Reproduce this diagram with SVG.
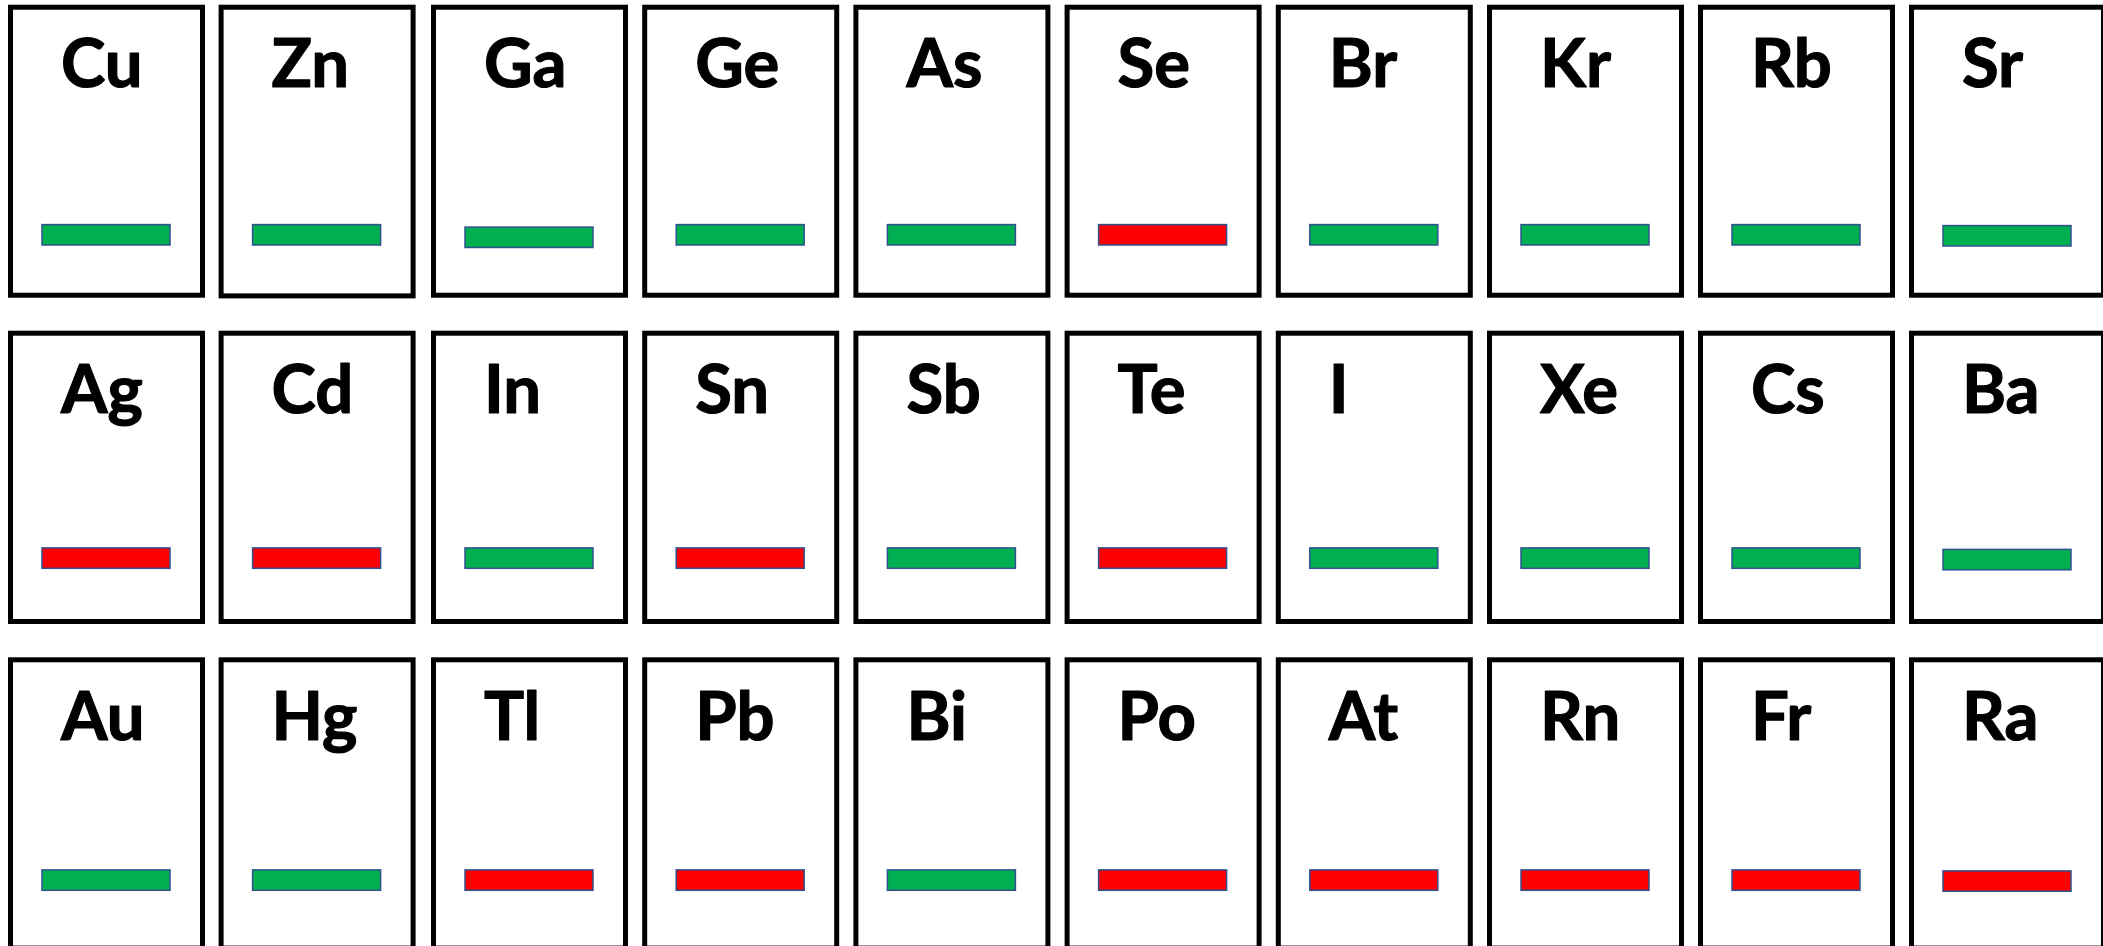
<svg xmlns="http://www.w3.org/2000/svg" width="2103" height="946" viewBox="0 0 2103 946">
  <style>
    .cell { fill: #ffffff; stroke: #000000; stroke-width: 5; }
    .sym { font-family: Lato, "Open Sans", "Liberation Sans", sans-serif; font-weight: 700; font-size: 67px; fill: #000000; stroke: #000000; stroke-width: 1.2; stroke-linejoin: round; }
    .bar { stroke: #2F528F; stroke-width: 1.5; }
    .ok { fill: #00B050; }
    .bad { fill: #FF0000; }
  </style>
  <rect width="2103" height="946" fill="#ffffff"/>

  <!-- Row 1 -->
  <g id="cell-Cu" transform="translate(8,4.7)"><rect class="cell" x="2.5" y="2.5" width="192" height="288"/><text class="sym" x="53" y="82.6">Cu</text><rect class="bar ok" x="34" y="219.9" width="128" height="20.4"/></g>
  <g id="cell-Zn" transform="translate(218.6,4.7)"><rect class="cell" x="2.5" y="2.5" width="192" height="288.7"/><text class="sym" x="53" y="82.6">Zn</text><rect class="bar ok" x="34" y="219.9" width="128" height="20.4"/></g>
  <g id="cell-Ga" transform="translate(431,4.7)"><rect class="cell" x="2.5" y="2.5" width="192" height="288"/><text class="sym" x="53" y="82.6">Ga</text><rect class="bar ok" x="34" y="222.4" width="128" height="20.4"/></g>
  <g id="cell-Ge" transform="translate(642.2,4.7)"><rect class="cell" x="2.5" y="2.5" width="192" height="288"/><text class="sym" x="53" y="82.6">Ge</text><rect class="bar ok" x="34" y="219.9" width="128" height="20.4"/></g>
  <g id="cell-As" transform="translate(853.4,4.7)"><rect class="cell" x="2.5" y="2.5" width="192" height="288"/><text class="sym" x="53" y="82.6">As</text><rect class="bar ok" x="34" y="219.9" width="128" height="20.4"/></g>
  <g id="cell-Se" transform="translate(1064.6,4.7)"><rect class="cell" x="2.5" y="2.5" width="192" height="288"/><text class="sym" x="53" y="82.6">Se</text><rect class="bar bad" x="34" y="219.9" width="128" height="20.4"/></g>
  <g id="cell-Br" transform="translate(1275.8,4.7)"><rect class="cell" x="2.5" y="2.5" width="192" height="288"/><text class="sym" x="53" y="82.6">Br</text><rect class="bar ok" x="34" y="219.9" width="128" height="20.4"/></g>
  <g id="cell-Kr" transform="translate(1487,4.7)"><rect class="cell" x="2.5" y="2.5" width="192" height="288"/><text class="sym" x="53" y="82.6">Kr</text><rect class="bar ok" x="34" y="219.9" width="128" height="20.4"/></g>
  <g id="cell-Rb" transform="translate(1698,4.7)"><rect class="cell" x="2.5" y="2.5" width="192" height="288"/><text class="sym" x="53" y="82.6">Rb</text><rect class="bar ok" x="34" y="219.9" width="128" height="20.4"/></g>
  <g id="cell-Sr" transform="translate(1909,4.7)"><rect class="cell" x="2.5" y="2.5" width="192" height="288"/><text class="sym" x="53" y="82.6">Sr</text><rect class="bar ok" x="34" y="220.9" width="128" height="20.4"/></g>

  <!-- Row 2 -->
  <g id="cell-Ag" transform="translate(8,330.7)"><rect class="cell" x="2.5" y="2.5" width="192" height="288.3"/><text class="sym" x="53" y="82.6">Ag</text><rect class="bar bad" x="34" y="217.2" width="128" height="20.4"/></g>
  <g id="cell-Cd" transform="translate(218.6,330.7)"><rect class="cell" x="2.5" y="2.5" width="192" height="288.3"/><text class="sym" x="53" y="82.6">Cd</text><rect class="bar bad" x="34" y="217.2" width="128" height="20.4"/></g>
  <g id="cell-In" transform="translate(431,330.7)"><rect class="cell" x="2.5" y="2.5" width="192" height="288.3"/><text class="sym" x="53" y="82.6">In</text><rect class="bar ok" x="34" y="217.2" width="128" height="20.4"/></g>
  <g id="cell-Sn" transform="translate(642.2,330.7)"><rect class="cell" x="2.5" y="2.5" width="192" height="288.3"/><text class="sym" x="53" y="82.6">Sn</text><rect class="bar bad" x="34" y="217.2" width="128" height="20.4"/></g>
  <g id="cell-Sb" transform="translate(853.4,330.7)"><rect class="cell" x="2.5" y="2.5" width="192" height="288.3"/><text class="sym" x="53" y="82.6">Sb</text><rect class="bar ok" x="34" y="217.2" width="128" height="20.4"/></g>
  <g id="cell-Te" transform="translate(1064.6,330.7)"><rect class="cell" x="2.5" y="2.5" width="192" height="288.3"/><text class="sym" x="53" y="82.6">Te</text><rect class="bar bad" x="34" y="217.2" width="128" height="20.4"/></g>
  <g id="cell-I" transform="translate(1275.8,330.7)"><rect class="cell" x="2.5" y="2.5" width="192" height="288.3"/><text class="sym" x="53" y="82.6">I</text><rect class="bar ok" x="34" y="217.2" width="128" height="20.4"/></g>
  <g id="cell-Xe" transform="translate(1487,330.7)"><rect class="cell" x="2.5" y="2.5" width="192" height="288.3"/><text class="sym" x="53" y="82.6">Xe</text><rect class="bar ok" x="34" y="217.2" width="128" height="20.4"/></g>
  <g id="cell-Cs" transform="translate(1698,330.7)"><rect class="cell" x="2.5" y="2.5" width="192" height="288.3"/><text class="sym" x="53" y="82.6">Cs</text><rect class="bar ok" x="34" y="217.2" width="128" height="20.4"/></g>
  <g id="cell-Ba" transform="translate(1909,330.7)"><rect class="cell" x="2.5" y="2.5" width="192" height="288.3"/><text class="sym" x="53" y="82.6">Ba</text><rect class="bar ok" x="34" y="218.7" width="128" height="20.4"/></g>

  <!-- Row 3 -->
  <g id="cell-Au" transform="translate(8,657.3)"><rect class="cell" x="2.5" y="2.5" width="192" height="288.3"/><text class="sym" x="53" y="82.6">Au</text><rect class="bar ok" x="34" y="212.6" width="128" height="20.4"/></g>
  <g id="cell-Hg" transform="translate(218.6,657.3)"><rect class="cell" x="2.5" y="2.5" width="192" height="288.3"/><text class="sym" x="53" y="82.6">Hg</text><rect class="bar ok" x="34" y="212.6" width="128" height="20.4"/></g>
  <g id="cell-Tl" transform="translate(431,657.3)"><rect class="cell" x="2.5" y="2.5" width="192" height="288.3"/><text class="sym" x="53" y="82.6">Tl</text><rect class="bar bad" x="34" y="212.6" width="128" height="20.4"/></g>
  <g id="cell-Pb" transform="translate(642.2,657.3)"><rect class="cell" x="2.5" y="2.5" width="192" height="288.3"/><text class="sym" x="53" y="82.6">Pb</text><rect class="bar bad" x="34" y="212.6" width="128" height="20.4"/></g>
  <g id="cell-Bi" transform="translate(853.4,657.3)"><rect class="cell" x="2.5" y="2.5" width="192" height="288.3"/><text class="sym" x="53" y="82.6">Bi</text><rect class="bar ok" x="34" y="212.6" width="128" height="20.4"/></g>
  <g id="cell-Po" transform="translate(1064.6,657.3)"><rect class="cell" x="2.5" y="2.5" width="192" height="288.3"/><text class="sym" x="53" y="82.6">Po</text><rect class="bar bad" x="34" y="212.6" width="128" height="20.4"/></g>
  <g id="cell-At" transform="translate(1275.8,657.3)"><rect class="cell" x="2.5" y="2.5" width="192" height="288.3"/><text class="sym" x="53" y="82.6">At</text><rect class="bar bad" x="34" y="212.6" width="128" height="20.4"/></g>
  <g id="cell-Rn" transform="translate(1487,657.3)"><rect class="cell" x="2.5" y="2.5" width="192" height="288.3"/><text class="sym" x="53" y="82.6">Rn</text><rect class="bar bad" x="34" y="212.6" width="128" height="20.4"/></g>
  <g id="cell-Fr" transform="translate(1698,657.3)"><rect class="cell" x="2.5" y="2.5" width="192" height="288.3"/><text class="sym" x="53" y="82.6">Fr</text><rect class="bar bad" x="34" y="212.6" width="128" height="20.4"/></g>
  <g id="cell-Ra" transform="translate(1909,657.3)"><rect class="cell" x="2.5" y="2.5" width="192" height="288.3"/><text class="sym" x="53" y="82.6">Ra</text><rect class="bar bad" x="34" y="213.6" width="128" height="20.4"/></g>

  <!-- no connectors in this chart -->
  <g id="connectors"/>
</svg>
